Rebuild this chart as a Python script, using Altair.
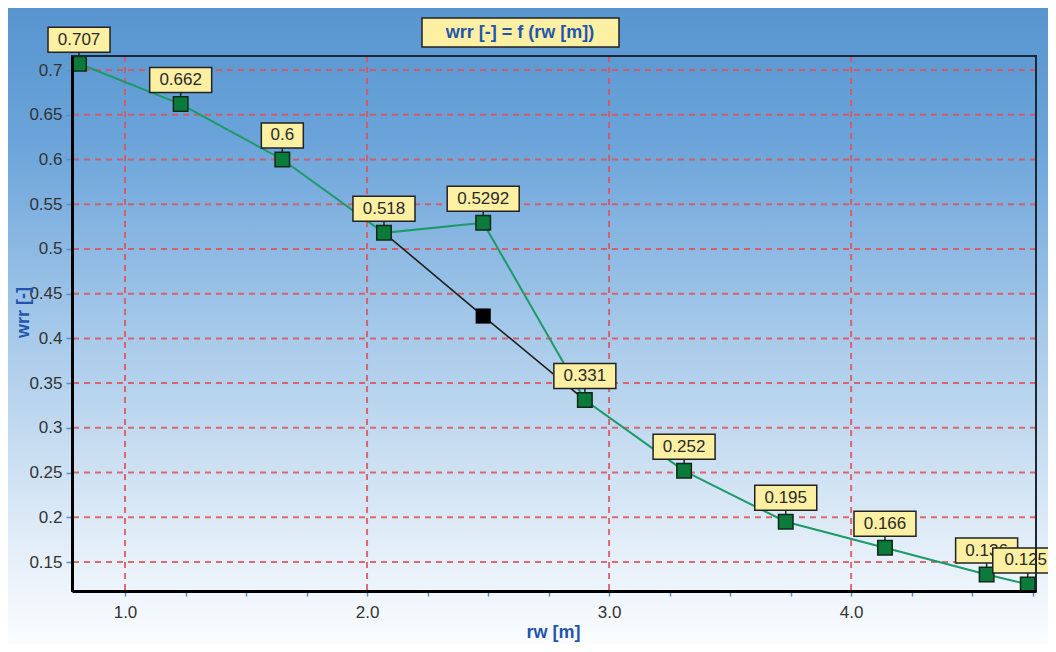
import altair as alt
import pandas as pd

# ---- data ----
rw = [0.81, 1.23, 1.65, 2.07, 2.48, 2.90, 3.31, 3.73, 4.14, 4.56, 4.73]
wrr = [0.707, 0.662, 0.6, 0.518, 0.5292, 0.331, 0.252, 0.195, 0.166, 0.136, 0.125]
labels = ["0.707", "0.662", "0.6", "0.518", "0.5292", "0.331", "0.252",
          "0.195", "0.166", "0.136", "0.125"]
alt_rw = [2.07, 2.48, 2.90]
alt_wrr = [0.518, 0.425, 0.331]
x_major = [1.0, 2.0, 3.0, 4.0]
x_ticks = [1.0, 1.25, 1.5, 1.75, 2.0, 2.25, 2.5, 2.75, 3.0, 3.25, 3.5, 3.75,
           4.0, 4.25, 4.5, 4.75]
y_ticks = [0.15, 0.2, 0.25, 0.3, 0.35, 0.4, 0.45, 0.5, 0.55, 0.6, 0.65, 0.7]
title_text = "wrr [-] = f (rw [m])"
x_title = "rw [m]"
y_title = "wrr [-]"

W, H = 964, 535
XD = [0.781, 4.764]
YD = [0.1176, 0.7157]

FONT = "Liberation Sans"
BLUE_T = "#1f55ad"
GRID = "#e25058"
BOX_FILL = "#fdf0a2"
LAST = len(rw) - 1

df = pd.DataFrame({"rw": rw, "wrr": wrr, "label": labels, "i": list(range(len(rw)))})
alt_df = pd.DataFrame({"rw": alt_rw, "wrr": alt_wrr})
gx = pd.DataFrame({"rw": x_major})
gy = pd.DataFrame({"wrr": y_ticks})
one = pd.DataFrame({"k": [0]})

xs = alt.Scale(domain=XD, nice=False, zero=False)
ys = alt.Scale(domain=YD, nice=False, zero=False)

x_axis = alt.Axis(
    values=x_ticks,
    labelExpr="datum.value % 1 == 0 ? format(datum.value, '.1f') : ''",
    grid=False, domainColor="#000000", domainWidth=3,
    tickColor="#5b8fc4", tickSize=5, tickWidth=1.5,
    labelFont=FONT, labelFontSize=17, labelColor="#333333", labelPadding=8,
    labelOverlap=False, labelFlush=False,
    title=x_title, titleFont=FONT, titleFontSize=18, titleFontWeight="bold",
    titleColor=BLUE_T, titleX=481, titleY=41, titleBaseline="middle",
    titleAlign="center", zindex=1,
)
y_axis = alt.Axis(
    values=y_ticks, format=".2~f",
    grid=False, domainColor="#000000", domainWidth=3,
    tickColor="#5b8fc4", tickSize=6, tickWidth=1.5,
    labelFont=FONT, labelFontSize=17, labelColor="#333333", labelPadding=4,
    labelOverlap=False, labelFlush=False,
    title=y_title, titleFont=FONT, titleFontSize=18, titleFontWeight="bold",
    titleColor=BLUE_T, titleX=-49, titleY=256, titleAngle=270,
    titleBaseline="middle", titleAlign="center", zindex=1,
)

grad = alt.Gradient(
    gradient="linear", x1=0, x2=0, y1=0, y2=1,
    stops=[
        alt.GradientStop(offset=0.0, color="#5895cf"),
        alt.GradientStop(offset=0.2, color="#69a3d9"),
        alt.GradientStop(offset=0.5, color="#a4c8e9"),
        alt.GradientStop(offset=0.8, color="#dbe9f6"),
        alt.GradientStop(offset=1.0, color="#fbfdff"),
    ],
)

bg = alt.Chart(one).mark_rect(color=grad).encode(
    x=alt.value(-64), x2=alt.value(976), y=alt.value(-48), y2=alt.value(588)
)

vgrid = alt.Chart(gx).mark_rule(color=GRID, strokeWidth=2, strokeDash=[6, 5], opacity=0.85).encode(
    x=alt.X("rw:Q", scale=xs, axis=x_axis)
)
hgrid = alt.Chart(gy).mark_rule(color=GRID, strokeWidth=2, strokeDash=[6, 5], opacity=0.85).encode(
    y=alt.Y("wrr:Q", scale=ys, axis=y_axis)
)

X = alt.X("rw:Q", scale=xs)
Y = alt.Y("wrr:Q", scale=ys)

black_line = alt.Chart(alt_df).mark_line(color="#1e1e1e", strokeWidth=1.6).encode(x=X, y=Y)
green_line = alt.Chart(df).mark_line(color="#1c9a68", strokeWidth=2).encode(
    x=X, y=Y, order="i:Q"
)
black_pt = alt.Chart(alt_df).transform_filter("datum.wrr < 0.5 && datum.wrr > 0.4").mark_square(
    size=230, color="#000000", opacity=1
).encode(x=X, y=Y)

stems = alt.Chart(df).mark_rule(color="#222222", strokeWidth=1.5, yOffset=-12, y2Offset=0).encode(
    x=X, y=Y, y2=alt.Y2("wrr")
)
squares = alt.Chart(df).mark_square(
    size=210, fill="#0b7a3a", stroke="#0d2a17", strokeWidth=1.5, opacity=1, fillOpacity=1
).encode(x=X, y=Y)


def boxes(n, w):
    return alt.Chart(df).transform_filter(
        f"length(datum.label) == {n} && datum.i != {LAST}"
    ).mark_rect(
        width=w, height=25, yOffset=-24, fill=BOX_FILL, stroke="#222222", strokeWidth=1.5
    ).encode(x=X, y=Y)


box3 = boxes(3, 42)
box5 = boxes(5, 62)
box6 = boxes(6, 72)

texts = alt.Chart(df).transform_filter(f"datum.i != {LAST}").mark_text(
    dy=-24, baseline="middle", align="center", font=FONT, fontSize=17, color="#2a2a2a"
).encode(x=X, y=Y, text="label:N")

# last label sits against the right edge: nudge it slightly left so it stays readable
box_last = alt.Chart(df).transform_filter(f"datum.i == {LAST}").mark_rect(
    width=62, height=25, yOffset=-24, xOffset=-4, fill=BOX_FILL, stroke="#222222", strokeWidth=1.5
).encode(x=X, y=Y)
text_last = alt.Chart(df).transform_filter(f"datum.i == {LAST}").mark_text(
    dy=-24, dx=-2, baseline="middle", align="center", font=FONT, fontSize=17, color="#2a2a2a"
).encode(x=X, y=Y, text="label:N")

border = alt.Chart(one).mark_rect(fillOpacity=0, stroke="#1c2733", strokeWidth=2).encode(
    x=alt.value(0), x2=alt.value(W), y=alt.value(0), y2=alt.value(H)
)

tbox = alt.Chart(one).mark_rect(fill=BOX_FILL, stroke="#222222", strokeWidth=1.5).encode(
    x=alt.value(350), x2=alt.value(547), y=alt.value(-38), y2=alt.value(-9)
)
ttext = alt.Chart(one).mark_text(
    text=title_text, font=FONT, fontSize=18, fontWeight="bold", color=BLUE_T,
    align="center", baseline="middle"
).encode(x=alt.value(448), y=alt.value(-23))

chart = alt.layer(
    bg, vgrid, hgrid, black_line, green_line, black_pt, stems, squares,
    box3, box5, box6, texts, box_last, text_last, border, tbox, ttext
).properties(
    width=W, height=H,
    autosize=alt.AutoSizeParams(type="none"),
    padding={"left": 64, "top": 48, "right": 12, "bottom": 53},
).configure_view(strokeWidth=0)

chart.save("out.html", embed_options={"renderer": "svg", "actions": False})
